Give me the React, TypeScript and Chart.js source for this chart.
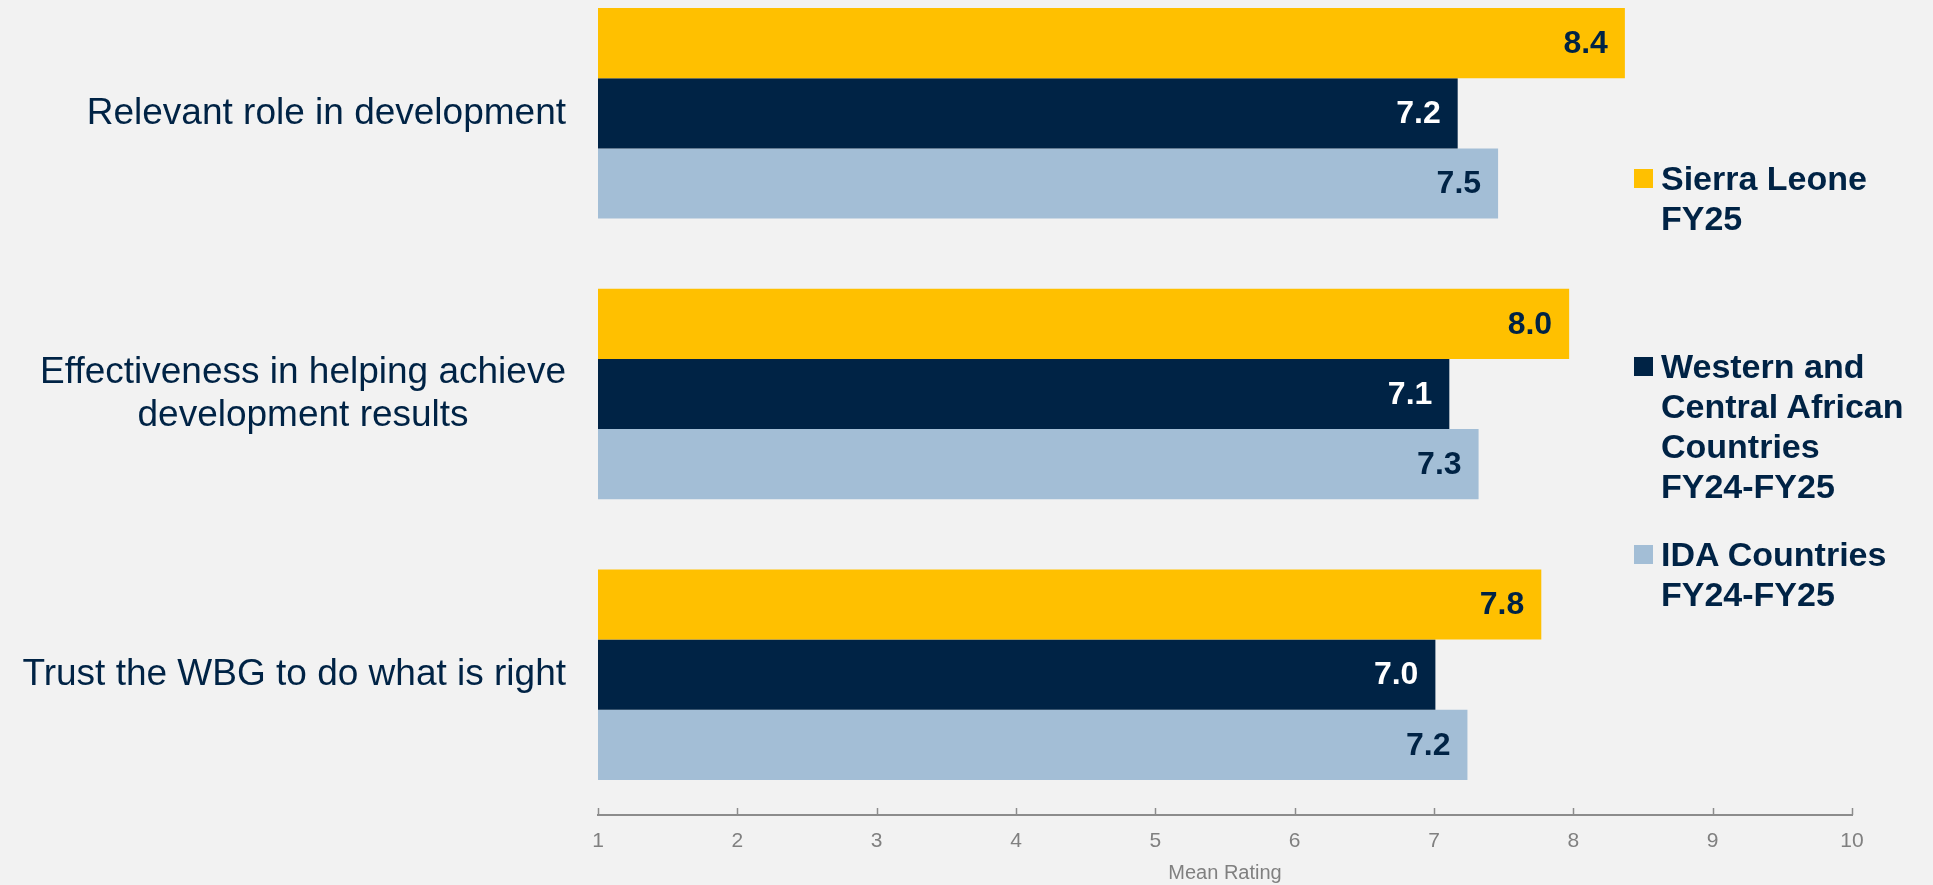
import React, { useEffect, useRef } from "react";
import { Chart, registerables } from "chart.js";

Chart.register(...registerables);

const categories: string[][] = [
  ["Relevant role in development"],
  ["Effectiveness in helping achieve", "development results"],
  ["Trust the WBG to do what is right"],
];

const seriesNames: string[][] = [
  ["Sierra Leone", "FY25"],
  ["Western and", "Central African", "Countries", "FY24-FY25"],
  ["IDA Countries", "FY24-FY25"],
];

const sierraLeone = [8.37, 7.97, 7.77];
const westernCentral = [7.17, 7.11, 7.01];
const idaCountries = [7.46, 7.32, 7.24];

const xTicks = [1, 2, 3, 4, 5, 6, 7, 8, 9, 10];

const COLORS = ["#FFC000", "#002345", "#A3BED6"];
const LABEL_COLORS = ["#002345", "#FFFFFF", "#002345"];
const NAVY = "#002345";
const GRAY = "#8C8C8C";
const FONT = "'Liberation Sans', Arial, Helvetica, sans-serif";

const yLabelPlugin = {
  id: "yLabels",
  afterDraw(chart: any) {
    const ctx = chart.ctx;
    const yScale = chart.scales.y;
    const right = chart.chartArea.left - 32;
    ctx.save();
    ctx.font = `37px ${FONT}`;
    ctx.fillStyle = NAVY;
    ctx.textAlign = "center";
    ctx.textBaseline = "middle";
    const lh = 43;
    categories.forEach((lines, i) => {
      const cy = yScale.getPixelForValue(i);
      const maxW = Math.max(...lines.map((l) => ctx.measureText(l).width));
      const cx = right - maxW / 2;
      lines.forEach((l, j) => {
        const y = cy + (j - (lines.length - 1) / 2) * lh;
        ctx.fillText(l, cx, y);
      });
    });
    ctx.restore();
  },
};

const valueLabelPlugin = {
  id: "valueLabels",
  afterDatasetsDraw(chart: any) {
    const ctx = chart.ctx;
    ctx.save();
    ctx.font = `bold 32px ${FONT}`;
    ctx.textAlign = "right";
    ctx.textBaseline = "middle";
    chart.data.datasets.forEach((ds: any, di: number) => {
      const meta = chart.getDatasetMeta(di);
      ctx.fillStyle = LABEL_COLORS[di];
      meta.data.forEach((el: any, i: number) => {
        const v = ds.data[i] as number;
        ctx.fillText(v.toFixed(1), el.x - 17, el.y + 1);
      });
    });
    ctx.restore();
  },
};

const upTicksPlugin = {
  id: "upTicks",
  afterDraw(chart: any) {
    const ctx = chart.ctx;
    const xScale = chart.scales.x;
    const bottom = chart.chartArea.bottom;
    ctx.save();
    ctx.strokeStyle = GRAY;
    ctx.lineWidth = 1.5;
    xScale.ticks.forEach((t: any) => {
      const x = Math.round(xScale.getPixelForValue(t.value)) + 0.5;
      ctx.beginPath();
      ctx.moveTo(x, bottom);
      ctx.lineTo(x, bottom - 7);
      ctx.stroke();
    });
    ctx.restore();
  },
};

function Legend() {
  const tops = [158, 346, 534];
  return (
    <>
      {seriesNames.map((lines, i) => (
        <div
          key={i}
          style={{
            position: "absolute",
            left: 1634,
            top: tops[i],
            display: "flex",
            alignItems: "flex-start",
          }}
        >
          <div
            style={{
              width: 19,
              height: 19,
              background: COLORS[i],
              marginTop: 11,
              marginRight: 8,
              flex: "0 0 auto",
            }}
          />
          <div
            style={{
              fontFamily: FONT,
              fontWeight: "bold",
              fontSize: 34,
              lineHeight: "40px",
              color: NAVY,
              whiteSpace: "nowrap",
            }}
          >
            {lines.map((l, j) => (
              <div key={j}>{l}</div>
            ))}
          </div>
        </div>
      ))}
    </>
  );
}

export default function App() {
  const canvasRef = useRef<HTMLCanvasElement | null>(null);

  useEffect(() => {
    if (!canvasRef.current) return;
    const chart = new Chart(canvasRef.current, {
      type: "bar",
      data: {
        labels: categories.map((c) => c.join(" ")),
        datasets: [
          { label: seriesNames[0].join(" "), data: sierraLeone, backgroundColor: COLORS[0] },
          { label: seriesNames[1].join(" "), data: westernCentral, backgroundColor: COLORS[1] },
          { label: seriesNames[2].join(" "), data: idaCountries, backgroundColor: COLORS[2] },
        ],
      },
      options: {
        indexAxis: "y",
        animation: false,
        responsive: false,
        maintainAspectRatio: false,
        layout: { padding: { left: 598, right: 81, top: 0, bottom: 0 } },
        datasets: {
          bar: { categoryPercentage: 0.75, barPercentage: 1.0, borderWidth: 0 },
        },
        plugins: {
          legend: { display: false },
          tooltip: { enabled: false },
        },
        scales: {
          y: {
            display: false,
          },
          x: {
            type: "linear",
            min: xTicks[0],
            max: xTicks[xTicks.length - 1],
            afterBuildTicks: (scale: any) => {
              scale.ticks = xTicks.map((v) => ({ value: v }));
            },
            afterFit: (scale: any) => {
              scale.height = 70;
            },
            grid: { display: false, drawTicks: false },
            border: { display: true, color: GRAY, width: 2 },
            ticks: {
              padding: 14,
              color: "#808080",
              font: { family: FONT, size: 21 },
              maxRotation: 0,
              autoSkip: false,
            },
            title: {
              display: true,
              text: "Mean Rating",
              color: "#808080",
              font: { family: FONT, size: 20 },
              padding: { top: 0, bottom: 0 },
            },
          },
        },
      },
      plugins: [yLabelPlugin, valueLabelPlugin, upTicksPlugin],
    } as any);
    return () => chart.destroy();
  }, []);

  return (
    <div
      style={{
        position: "fixed",
        left: 0,
        top: 0,
        width: 1933,
        height: 885,
        overflow: "hidden",
        background: "#F2F2F2",
      }}
    >
      <canvas
        ref={canvasRef}
        width={1933}
        height={912}
        style={{ position: "absolute", left: 0, top: -27, width: 1933, height: 912, display: "block" }}
      />
      <Legend />
    </div>
  );
}
